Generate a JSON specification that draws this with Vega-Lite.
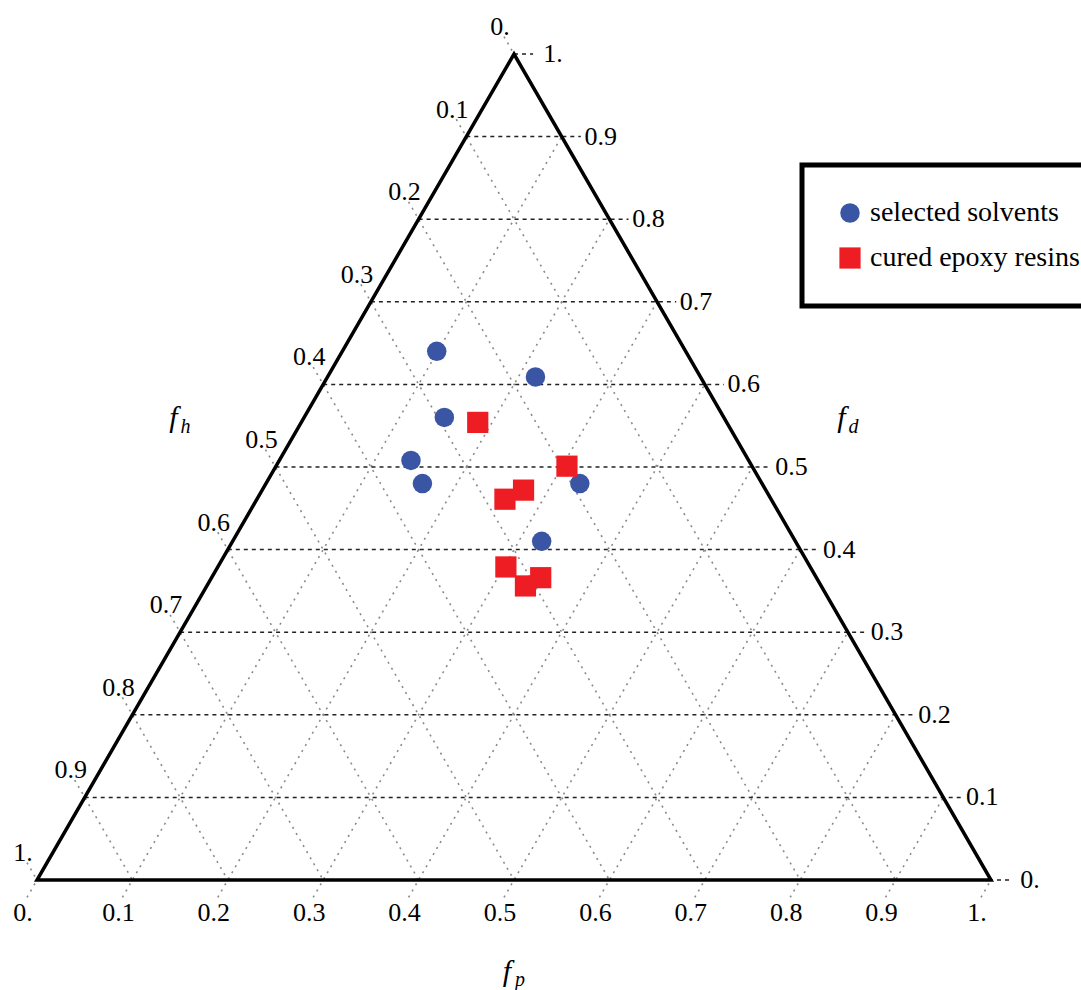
{
  "$schema": "https://vega.github.io/schema/vega-lite/v6.json",
  "width": 954,
  "height": 826,
  "autosize": "none",
  "padding": {"left": 37, "top": 54, "right": 90, "bottom": 110},
  "background": "white",
  "config": {
    "view": {"stroke": null},
    "font": "'Liberation Serif', 'DejaVu Serif', 'Times New Roman', serif",
    "legend": {"strokeWidth": 5}
  },
  "datasets": {
    "ticks": [
      {"fam": "fd", "k": 0, "lab": "0."}, {"fam": "fd", "k": 0.1, "lab": "0.1"}, {"fam": "fd", "k": 0.2, "lab": "0.2"}, {"fam": "fd", "k": 0.3, "lab": "0.3"}, {"fam": "fd", "k": 0.4, "lab": "0.4"}, {"fam": "fd", "k": 0.5, "lab": "0.5"}, {"fam": "fd", "k": 0.6, "lab": "0.6"}, {"fam": "fd", "k": 0.7, "lab": "0.7"}, {"fam": "fd", "k": 0.8, "lab": "0.8"}, {"fam": "fd", "k": 0.9, "lab": "0.9"}, {"fam": "fd", "k": 1, "lab": "1."},
      {"fam": "fp", "k": 0, "lab": "0."}, {"fam": "fp", "k": 0.1, "lab": "0.1"}, {"fam": "fp", "k": 0.2, "lab": "0.2"}, {"fam": "fp", "k": 0.3, "lab": "0.3"}, {"fam": "fp", "k": 0.4, "lab": "0.4"}, {"fam": "fp", "k": 0.5, "lab": "0.5"}, {"fam": "fp", "k": 0.6, "lab": "0.6"}, {"fam": "fp", "k": 0.7, "lab": "0.7"}, {"fam": "fp", "k": 0.8, "lab": "0.8"}, {"fam": "fp", "k": 0.9, "lab": "0.9"}, {"fam": "fp", "k": 1, "lab": "1."},
      {"fam": "fh", "k": 0, "lab": "0."}, {"fam": "fh", "k": 0.1, "lab": "0.1"}, {"fam": "fh", "k": 0.2, "lab": "0.2"}, {"fam": "fh", "k": 0.3, "lab": "0.3"}, {"fam": "fh", "k": 0.4, "lab": "0.4"}, {"fam": "fh", "k": 0.5, "lab": "0.5"}, {"fam": "fh", "k": 0.6, "lab": "0.6"}, {"fam": "fh", "k": 0.7, "lab": "0.7"}, {"fam": "fh", "k": 0.8, "lab": "0.8"}, {"fam": "fh", "k": 0.9, "lab": "0.9"}, {"fam": "fh", "k": 1, "lab": "1."}
    ],
    "tri": [
      {"fp": 0.5, "fd": 0, "o": 0}, {"fp": 1, "fd": 0, "o": 1}, {"fp": 0, "fd": 1, "o": 2}, {"fp": 0, "fd": 0, "o": 3}, {"fp": 0.5, "fd": 0, "o": 4}
    ],
    "pts": [
      {"group": "selected solvents", "fp": 0.099, "fd": 0.640, "fh": 0.261},
      {"group": "selected solvents", "fp": 0.218, "fd": 0.609, "fh": 0.173},
      {"group": "selected solvents", "fp": 0.147, "fd": 0.560, "fh": 0.293},
      {"group": "selected solvents", "fp": 0.138, "fd": 0.508, "fh": 0.354},
      {"group": "selected solvents", "fp": 0.164, "fd": 0.480, "fh": 0.356},
      {"group": "selected solvents", "fp": 0.329, "fd": 0.480, "fh": 0.191},
      {"group": "selected solvents", "fp": 0.324, "fd": 0.410, "fh": 0.266},
      {"group": "cured epoxy resins", "fp": 0.185, "fd": 0.554, "fh": 0.261},
      {"group": "cured epoxy resins", "fp": 0.305, "fd": 0.501, "fh": 0.194},
      {"group": "cured epoxy resins", "fp": 0.274, "fd": 0.472, "fh": 0.254},
      {"group": "cured epoxy resins", "fp": 0.260, "fd": 0.461, "fh": 0.279},
      {"group": "cured epoxy resins", "fp": 0.302, "fd": 0.379, "fh": 0.319},
      {"group": "cured epoxy resins", "fp": 0.345, "fd": 0.366, "fh": 0.289},
      {"group": "cured epoxy resins", "fp": 0.334, "fd": 0.356, "fh": 0.310}
    ],
    "anchors": [
      {"ax": "h", "fp": 0, "fd": 0.5},
      {"ax": "d", "fp": 0.5, "fd": 0.5},
      {"ax": "p", "fp": 0.5, "fd": 0}
    ]
  },
  "encoding": {
    "x": {"field": "x", "type": "quantitative", "scale": {"domain": [0, 1], "nice": false, "zero": false}, "axis": null},
    "y": {"field": "y", "type": "quantitative", "scale": {"domain": [0, 1], "nice": false, "zero": false}, "axis": null}
  },
  "layer": [
    {
      "data": {"name": "ticks"},
      "transform": [
        {"filter": "datum.fam != 'fd'"},
        {"calculate": "datum.fam == 'fp' ? datum.k - 0.0105 : (1 - datum.k - 0.021) / 2", "as": "x"},
        {"calculate": "datum.fam == 'fp' ? -0.021 : 1 - datum.k + 0.021", "as": "y"},
        {"calculate": "datum.fam == 'fp' ? (1 + datum.k) / 2 : 1 - datum.k", "as": "x2"},
        {"calculate": "datum.fam == 'fp' ? 1 - datum.k : 0", "as": "y2"}
      ],
      "mark": {"type": "rule", "color": "#8a8a8a", "strokeWidth": 1.6, "strokeDash": [2, 5]},
      "encoding": {"x2": {"field": "x2"}, "y2": {"field": "y2"}}
    },
    {
      "data": {"name": "ticks"},
      "transform": [
        {"filter": "datum.fam == 'fd'"},
        {"calculate": "datum.k / 2", "as": "x"},
        {"calculate": "datum.k", "as": "y"},
        {"calculate": "1 - datum.k / 2 + 0.02", "as": "x2"},
        {"calculate": "datum.k", "as": "y2"}
      ],
      "mark": {"type": "rule", "color": "#222222", "strokeWidth": 1.5, "strokeDash": [4, 4]},
      "encoding": {"x2": {"field": "x2"}, "y2": {"field": "y2"}}
    },
    {
      "data": {"name": "tri"},
      "transform": [
        {"calculate": "datum.fp + datum.fd / 2", "as": "x"},
        {"calculate": "datum.fd", "as": "y"}
      ],
      "mark": {"type": "line", "color": "black", "strokeWidth": 3.5, "strokeJoin": "miter"},
      "encoding": {"order": {"field": "o", "type": "quantitative"}}
    },
    {
      "data": {"name": "pts"},
      "transform": [
        {"calculate": "datum.fp + datum.fd / 2", "as": "x"},
        {"calculate": "datum.fd", "as": "y"}
      ],
      "mark": {"type": "point", "filled": true, "opacity": 1},
      "encoding": {
        "color": {
          "field": "group", "type": "nominal",
          "scale": {"domain": ["selected solvents", "cured epoxy resins"], "range": ["#3B55A5", "#EE1D24"]},
          "legend": {
            "title": null, "orient": "none", "legendX": 765, "legendY": 111,
            "padding": 34, "strokeColor": "black", "fillColor": "white",
            "labelFont": "'Liberation Serif', 'DejaVu Serif', serif", "labelFontSize": 28, "labelColor": "black",
            "labelLimit": 400, "labelOffset": 6, "symbolSize": 400, "rowPadding": 17
          }
        },
        "shape": {
          "field": "group", "type": "nominal",
          "scale": {"domain": ["selected solvents", "cured epoxy resins"], "range": ["circle", "square"]},
          "legend": {
            "title": null, "orient": "none", "legendX": 765, "legendY": 111,
            "padding": 34, "strokeColor": "black", "fillColor": "white",
            "labelFont": "'Liberation Serif', 'DejaVu Serif', serif", "labelFontSize": 28, "labelColor": "black",
            "labelLimit": 400, "labelOffset": 6, "symbolSize": 400, "rowPadding": 17
          }
        },
        "size": {"field": "group", "type": "nominal", "scale": {"domain": ["selected solvents", "cured epoxy resins"], "range": [380, 450]}, "legend": null}
      }
    },
    {
      "data": {"name": "ticks"},
      "transform": [
        {"filter": "datum.fam == 'fd'"},
        {"calculate": "1 - datum.k / 2", "as": "x"},
        {"calculate": "datum.k", "as": "y"}
      ],
      "mark": {"type": "text", "font": "'Liberation Serif', 'DejaVu Serif', serif", "fontSize": 26, "color": "black", "align": "center", "baseline": "middle", "dx": 39, "dy": 0},
      "encoding": {"text": {"field": "lab"}}
    },
    {
      "data": {"name": "ticks"},
      "transform": [
        {"filter": "datum.fam == 'fp'"},
        {"calculate": "datum.k", "as": "x"},
        {"calculate": "0", "as": "y"}
      ],
      "mark": {"type": "text", "font": "'Liberation Serif', 'DejaVu Serif', serif", "fontSize": 26, "color": "black", "align": "center", "baseline": "middle", "dx": -14, "dy": 33},
      "encoding": {"text": {"field": "lab"}}
    },
    {
      "data": {"name": "ticks"},
      "transform": [
        {"filter": "datum.fam == 'fh'"},
        {"calculate": "(1 - datum.k) / 2", "as": "x"},
        {"calculate": "1 - datum.k", "as": "y"}
      ],
      "mark": {"type": "text", "font": "'Liberation Serif', 'DejaVu Serif', serif", "fontSize": 26, "color": "black", "align": "center", "baseline": "middle", "dx": -14, "dy": -27},
      "encoding": {"text": {"field": "lab"}}
    },
    {
      "data": {"name": "anchors"},
      "transform": [
        {"filter": "datum.ax == 'h'"},
        {"calculate": "datum.fp + datum.fd / 2", "as": "x"},
        {"calculate": "datum.fd", "as": "y"}
      ],
      "mark": {"type": "text", "text": "f", "font": "'Liberation Serif', 'DejaVu Serif', serif", "fontStyle": "italic", "fontSize": 30, "color": "black", "align": "center", "baseline": "alphabetic", "dx": -102, "dy": -40}
    },
    {
      "data": {"name": "anchors"},
      "transform": [
        {"filter": "datum.ax == 'h'"},
        {"calculate": "datum.fp + datum.fd / 2", "as": "x"},
        {"calculate": "datum.fd", "as": "y"}
      ],
      "mark": {"type": "text", "text": "h", "font": "'Liberation Serif', 'DejaVu Serif', serif", "fontStyle": "italic", "fontSize": 20, "color": "black", "align": "center", "baseline": "alphabetic", "dx": -90, "dy": -34}
    },
    {
      "data": {"name": "anchors"},
      "transform": [
        {"filter": "datum.ax == 'd'"},
        {"calculate": "datum.fp + datum.fd / 2", "as": "x"},
        {"calculate": "datum.fd", "as": "y"}
      ],
      "mark": {"type": "text", "text": "f", "font": "'Liberation Serif', 'DejaVu Serif', serif", "fontStyle": "italic", "fontSize": 30, "color": "black", "align": "center", "baseline": "alphabetic", "dx": 89, "dy": -40}
    },
    {
      "data": {"name": "anchors"},
      "transform": [
        {"filter": "datum.ax == 'd'"},
        {"calculate": "datum.fp + datum.fd / 2", "as": "x"},
        {"calculate": "datum.fd", "as": "y"}
      ],
      "mark": {"type": "text", "text": "d", "font": "'Liberation Serif', 'DejaVu Serif', serif", "fontStyle": "italic", "fontSize": 20, "color": "black", "align": "center", "baseline": "alphabetic", "dx": 101, "dy": -34}
    },
    {
      "data": {"name": "anchors"},
      "transform": [
        {"filter": "datum.ax == 'p'"},
        {"calculate": "datum.fp + datum.fd / 2", "as": "x"},
        {"calculate": "datum.fd", "as": "y"}
      ],
      "mark": {"type": "text", "text": "f", "font": "'Liberation Serif', 'DejaVu Serif', serif", "fontStyle": "italic", "fontSize": 30, "color": "black", "align": "center", "baseline": "alphabetic", "dx": -7, "dy": 101}
    },
    {
      "data": {"name": "anchors"},
      "transform": [
        {"filter": "datum.ax == 'p'"},
        {"calculate": "datum.fp + datum.fd / 2", "as": "x"},
        {"calculate": "datum.fd", "as": "y"}
      ],
      "mark": {"type": "text", "text": "p", "font": "'Liberation Serif', 'DejaVu Serif', serif", "fontStyle": "italic", "fontSize": 20, "color": "black", "align": "center", "baseline": "alphabetic", "dx": 6, "dy": 106}
    }
  ]
}
